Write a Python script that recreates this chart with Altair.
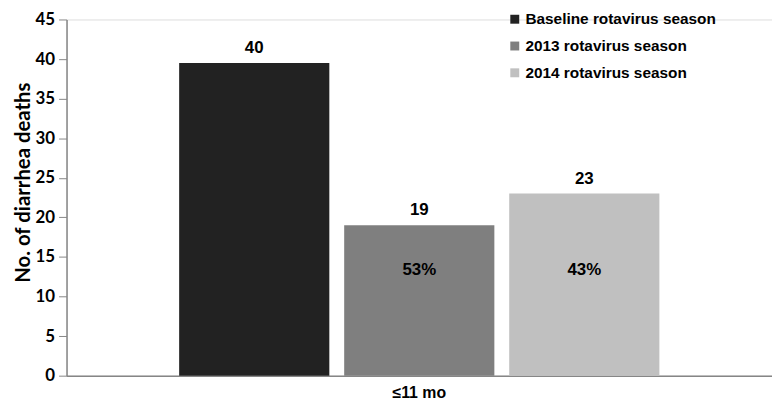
import altair as alt
import pandas as pd

seasons = ["Baseline rotavirus season", "2013 rotavirus season", "2014 rotavirus season"]
deaths = [39.5, 19, 23]
value_labels = ["40", "19", "23"]
pct_labels = ["", "53%", "43%"]
age_group = "≤11 mo"
colors = ["#222222", "#7f7f7f", "#c0c0c0"]
y_ticks = [0, 5, 10, 15, 20, 25, 30, 35, 40, 45]

df = pd.DataFrame({
    "age": [age_group] * 3,
    "season": seasons,
    "deaths": deaths,
    "vlabel": value_labels,
    "plabel": pct_labels,
})

x_enc = alt.X(
    "age:N",
    title=None,
    scale=alt.Scale(paddingOuter=0.2345, paddingInner=0),
    axis=alt.Axis(
        labelFont="Liberation Sans", labelFontWeight="bold", labelFontSize=16,
        labelColor="black", labelAngle=0, labelPadding=9,
        ticks=False, domainColor="#868686", domainWidth=1.5,
    ),
)
xo_enc = alt.XOffset("season:N", sort=seasons, scale=alt.Scale(paddingInner=0.09))

base = alt.Chart(df)

bars = base.mark_bar().encode(
    x=x_enc,
    xOffset=xo_enc,
    y=alt.Y(
        "deaths:Q",
        scale=alt.Scale(domain=[0, 45], nice=False),
        title="No. of diarrhea deaths",
        axis=alt.Axis(
            values=y_ticks, tickCount=len(y_ticks), grid=False, labelOverlap=False,
            labelFont="Lato", labelFontWeight="bold", labelFontSize=17,
            labelColor="black", labelPadding=4,
            tickSize=8, tickColor="#868686", domainColor="#868686", domainWidth=1.5,
            titleFont="Lato", titleFontWeight="bold", titleFontSize=20.5,
            titleColor="black", titleX=-43, titleY=164,
            titleAlign="center", titleBaseline="middle", titleAngle=270,
        ),
    ),
    color=alt.Color(
        "season:N", sort=seasons,
        scale=alt.Scale(domain=seasons, range=colors),
        legend=alt.Legend(
            title=None, orient="none", legendX=444, legendY=-8,
            symbolType="square", symbolSize=81, symbolStrokeWidth=0,
            labelFont="Liberation Sans", labelFontWeight="bold", labelFontSize=15.5,
            labelColor="black", rowPadding=10, padding=0, labelOffset=3,
            labelLimit=0,
        ),
    ),
)

vtext = base.mark_text(
    font="Liberation Sans", fontWeight="bold", fontSize=17, color="black",
    baseline="middle", dy=-15,
).encode(x=x_enc, xOffset=xo_enc, y="deaths:Q", text="vlabel:N")

ptext = base.transform_filter("datum.plabel != ''").mark_text(
    font="Liberation Sans", fontWeight="bold", fontSize=17, color="black",
    baseline="middle",
).encode(x=x_enc, xOffset=xo_enc, y=alt.datum(13.3), text="plabel:N")

chart = alt.layer(bars, vtext, ptext).properties(
    width=711, height=359,
    autosize=alt.AutoSizeParams(type="none"),
    padding={"left": 59, "top": 10, "right": 0, "bottom": 29},
).configure_view(stroke=None).configure(background="white")

chart.save("out.html", embed_options={"renderer": "svg", "actions": False})
